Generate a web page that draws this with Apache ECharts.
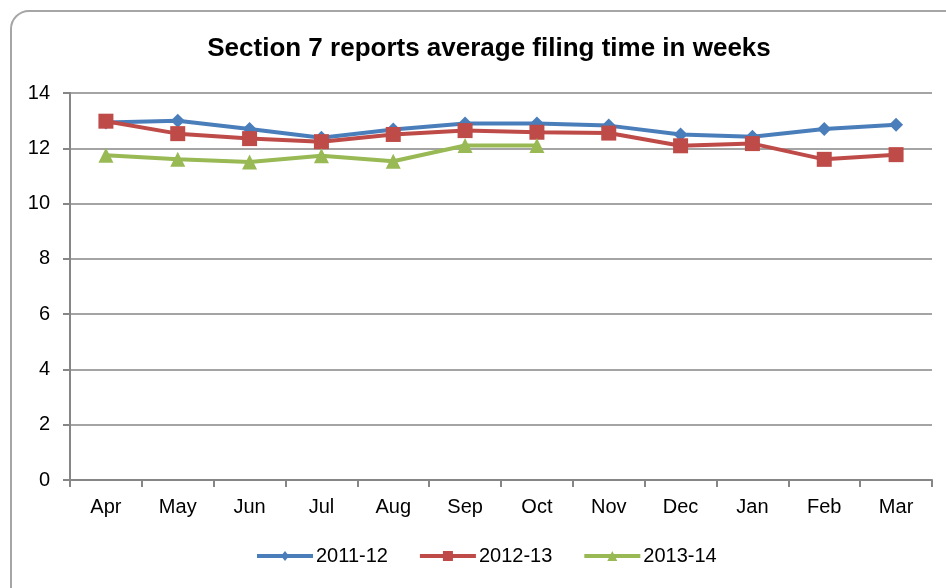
<!DOCTYPE html>
<html>
<head>
<meta charset="utf-8">
<script src="https://cdn.jsdelivr.net/npm/echarts@6/dist/echarts.min.js"></script>
<style>
  html, body { margin: 0; padding: 0; background: #fff; }
  #chart { width: 946px; height: 588px; }
</style>
</head>
<body>
<div id="chart"></div>
<script>
const months = ['Apr', 'May', 'Jun', 'Jul', 'Aug', 'Sep', 'Oct', 'Nov', 'Dec', 'Jan', 'Feb', 'Mar']
const yTicks = [0, 2, 4, 6, 8, 10, 12, 14]
const fy2011 = [12.93, 13.0, 12.7, 12.38, 12.68, 12.9, 12.9, 12.82, 12.5, 12.42, 12.7, 12.85]
const fy2012 = [12.98, 12.53, 12.35, 12.24, 12.5, 12.64, 12.58, 12.55, 12.09, 12.17, 11.6, 11.77]
const fy2013 = [11.75, 11.6, 11.5, 11.73, 11.53, 12.1, 12.1]

const font = 'Arial, "Liberation Sans", sans-serif'

// legend icons: thick line with the series marker in the middle
const lineBar = 'M0,5 L56,5 L56,9 L0,9 Z '
const icons = {
  diamond: 'path://' + lineBar + 'M28,2 L32,7 L28,12 L24,7 Z',
  square: 'path://' + lineBar + 'M23,2 L33,2 L33,12 L23,12 Z',
  triangle: 'path://' + lineBar + 'M28,2 L33,12 L23,12 Z',
}

function lineSeries (name, data, color, symbol, size) {
  return {
    name: name,
    type: 'line',
    data: data,
    symbol: symbol,
    symbolSize: size,
    lineStyle: { color: color, width: 4 },
    itemStyle: { color: color },
    emphasis: { disabled: true },
    animation: false,
  }
}

const chart = echarts.init(document.getElementById('chart'))
chart.setOption({
  animation: false,
  title: {
    text: 'Section 7 reports average filing time in weeks',
    left: 484,
    textAlign: 'center',
    top: 31,
    textStyle: {
      fontFamily: font,
      fontWeight: 'bold',
      fontSize: 26,
      color: '#000',
    },
  },
  graphic: [{
    type: 'rect',
    shape: { x: 11, y: 11, width: 1000, height: 640, r: 18 },
    style: { fill: 'none', stroke: '#a6a6a6', lineWidth: 2 },
    z: -1,
  }],
  grid: { left: 70, right: 14, top: 93, bottom: 108 },
  legend: {
    top: 541,
    left: 252,
    itemWidth: 56,
    itemHeight: 10,
    itemGap: 32,
    textStyle: { fontFamily: font, fontSize: 20, color: '#000', padding: [0, 0, 0, -2] },
    data: [
      { name: '2011-12', icon: icons.diamond },
      { name: '2012-13', icon: icons.square },
      { name: '2013-14', icon: icons.triangle },
    ],
  },
  xAxis: {
    type: 'category',
    data: months,
    boundaryGap: true,
    axisLine: { lineStyle: { color: '#868686', width: 2 } },
    axisTick: { show: true, length: 7, lineStyle: { color: '#868686', width: 2 } },
    axisLabel: { fontFamily: font, fontSize: 20, color: '#000', margin: 17 },
  },
  yAxis: {
    type: 'value',
    min: yTicks[0],
    max: yTicks[yTicks.length - 1],
    interval: 2,
    axisLine: { show: true, lineStyle: { color: '#868686', width: 2 } },
    axisTick: { show: true, inside: false, length: 7, lineStyle: { color: '#868686', width: 2 } },
    splitLine: { lineStyle: { color: '#868686', width: 1.5 } },
    axisLabel: { fontFamily: font, fontSize: 20, color: '#000', margin: 20 },
  },
  series: [
    lineSeries('2011-12', fy2011, '#4a7ebb', 'diamond', 14),
    lineSeries('2012-13', fy2012, '#be4b48', 'rect', 15),
    lineSeries('2013-14', fy2013, '#98b954', 'triangle', 15),
  ],
})
</script>
</body>
</html>
